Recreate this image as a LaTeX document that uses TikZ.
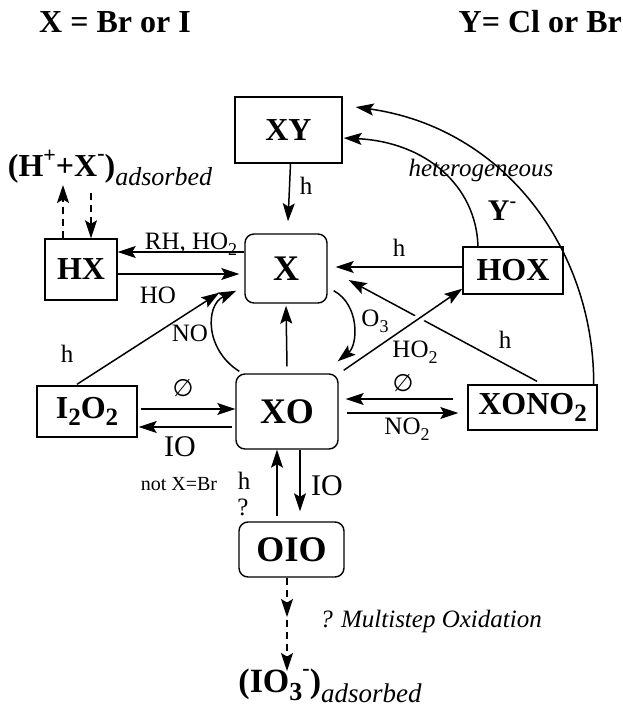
\documentclass[tikz,border=0pt]{standalone}
\usepackage{fontspec}
\setmainfont{Liberation Serif}
\newfontfamily\symfam{DejaVu Sans}
\usetikzlibrary{arrows.meta}
\begin{document}
\begin{tikzpicture}[x=1pt,y=-1pt,
  box/.style={draw, line width=1.4pt, inner sep=0pt, font=\fontsize{32}{32}\selectfont\bfseries},
  rbox/.style={box, rounded corners=9pt},
  bigtxt/.style={font=\fontsize{36}{36}\selectfont\bfseries},
  arr/.style={line width=1.5pt, -{Stealth[length=18pt,width=12pt,inset=3.5pt]}},
  darr/.style={arr, dash pattern=on 7pt off 5pt},
  lab/.style={inner sep=0pt, font=\fontsize{25}{25}\selectfont},
  ilab/.style={inner sep=0pt, font=\fontsize{25}{25}\selectfont\itshape},
  big/.style={inner sep=0pt, font=\fontsize{32}{32}\selectfont\bfseries}
]
\useasboundingbox (0,0) rectangle (623,709);
\newcommand{\lowtwo}{\raisebox{-0.22em}{\fontsize{25}{25}\selectfont 2}}
\newcommand{\lowsub}[1]{\raisebox{-0.25em}{\fontsize{18}{18}\selectfont #1}}

% titles
\node[big, anchor=base west] (t1) at (39,33) {X = Br or I};
\node[big, anchor=base east] (t2) at (622,33) {Y= Cl or Br};

% boxes
\node[box, minimum width=107pt, minimum height=66pt] (XY) at (288.5,130) {XY};
\node[rbox, bigtxt, minimum width=82pt, minimum height=69pt] (X) at (286,268.5) {X};
\node[box, minimum width=72pt, minimum height=61pt] (HX) at (81,269.5) {HX};
\node[box, minimum width=100pt, minimum height=47pt] (HOX) at (513,270.5) {HOX};
\node[box, minimum width=129pt, minimum height=45pt] (XONO) at (532.5,407.5) {XONO\lowtwo};
\node[rbox, bigtxt, minimum width=102pt, minimum height=75pt] (XO) at (287,411.5) {XO};
\node[box, minimum width=100pt, minimum height=51pt] (IO) at (87,411.5) {I\lowtwo O\lowtwo};
\node[rbox, bigtxt, minimum width=105pt, minimum height=55pt] (OIO) at (291.5,549.5) {OIO};

% adsorbed species
\node[big] (HXads) at (110,168) {(H\raisebox{0.42em}{\fontsize{22}{22}\selectfont +}+X\raisebox{0.5em}{\fontsize{22}{22}\selectfont -})\raisebox{-0.28em}{\fontsize{26}{26}\selectfont\mdseries\itshape adsorbed}};
\node[inner sep=0pt, font=\fontsize{34}{34}\selectfont\bfseries] (IOads) at (330,686) {(IO\raisebox{-0.22em}{\fontsize{26}{26}\selectfont 3}\raisebox{0.5em}{\fontsize{22}{22}\selectfont -})\raisebox{-0.28em}{\fontsize{27}{27}\selectfont\mdseries\itshape adsorbed}};

\coordinate (adsUp) at (63,185);
\coordinate (adsDn) at (91,193);
\coordinate (mid) at (287,617);
\coordinate (midB) at (287,620);
\coordinate (endIO) at (287,671);

% XY -> X
\draw[arr] ([xshift=2pt]XY.south) -- ([xshift=2pt,yshift=12pt]X.north);
\node[lab] (lh1) at (306,186) {h};

% X <-> HX
\draw[arr] ([yshift=16.5pt]X.west) -- ([yshift=17.5pt]HX.east);
\draw[arr] ([yshift=-4.5pt]HX.east) -- ([xshift=-5pt,yshift=-5.5pt]X.west);
\node[lab] (lrh) at (191,244) {RH, HO\lowsub{2}};
\node[lab] (lho) at (158,295) {HO};

% HX <-> adsorbed
\draw[darr] ([xshift=-18pt]HX.north) -- (adsUp);
\draw[darr] (adsDn) -- ([xshift=10pt]HX.north);

% HOX -> X
\draw[arr] ([yshift=3.5pt]HOX.west) -- ([xshift=8pt,yshift=1.5pt]X.east);
\node[lab] (lh2) at (399,248) {h};

% HOX -> XY heterogeneous
\draw[arr] ([xshift=-35pt]HOX.north) .. controls (476,185) and (425,142) .. ([xshift=1pt,yshift=-8pt]XY.east);
\node[ilab] (lhet) at (481,170) {heterogeneous};
\node[inner sep=0pt, font=\fontsize{30}{30}\selectfont\bfseries] (lY) at (502,211) {Y\raisebox{0.45em}{\fontsize{20}{20}\selectfont -}};

% XONO2 -> XY
\draw[arr] ([xshift=-4pt]XONO.north east) .. controls (594,250) and (505,128) .. ([xshift=13pt,yshift=23pt]XY.east);

% XONO2 -> X (h), broken by crossing
\draw[arr] ([xshift=4.5pt,yshift=3pt]XONO.north) -- ([xshift=21pt,yshift=-11.5pt]X.east);
\node[lab] (lh3) at (505,340) {h};
% XO -> HOX
\draw[arr, preaction={draw=white, line width=9pt, -{}, shorten >=20pt, shorten <=30pt}] ([xshift=5pt,yshift=3pt]XO.north east) -- ([yshift=6pt]HOX.south west);
\node[lab] (lho2) at (415,352) {HO\lowsub{2}};

% O3 curve
\draw[arr] ([xshift=6pt,yshift=13pt]X.south east) .. controls (360,305) and (358,345) .. ([xshift=-1pt,yshift=12pt]XO.north east);
\node[lab] (lo3) at (375,321) {O\lowsub{3}};

% NO curve
\draw[arr] ([xshift=4pt,yshift=2pt]XO.north west) .. controls (205,350) and (205,305) .. ([xshift=-8pt,yshift=13pt]X.south west);
\node[lab] (lno) at (190,333) {NO};

% XO -> X
\draw[arr] ([yshift=7pt]XO.north) -- ([yshift=-2pt]X.south);

% I2O2 -> X
\draw[arr] ([xshift=-10pt,yshift=1pt]IO.north) -- ([xshift=-25pt,yshift=11pt]X.south west);
\node[lab] (lh4) at (67,354) {h};

% I2O2 <-> XO
\draw[arr] ([xshift=3pt,yshift=2.5pt]IO.east) -- ([yshift=2.5pt]XO.west);
\draw[arr] ([xshift=-3pt,yshift=-15.5pt]XO.west) -- ([xshift=1pt,yshift=-15.5pt]IO.east);
\node[inner sep=0pt, font=\fontsize{24}{24}\selectfont\symfam] (le1) at (183,388) {∅};
\node[inner sep=0pt, font=\fontsize{30}{30}\selectfont] (lio1) at (180,447) {IO};
\node[inner sep=0pt, font=\fontsize{20}{20}\selectfont] (lnot) at (179,484) {not X=Br};

% XO <-> XONO2
\draw[arr] ([xshift=-14pt,yshift=8.5pt]XONO.west) -- ([xshift=7pt,yshift=12.5pt]XO.east);
\draw[arr] ([xshift=8pt,yshift=-1.5pt]XO.east) -- ([xshift=-9pt,yshift=-5.5pt]XONO.west);
\node[inner sep=0pt, font=\fontsize{24}{24}\selectfont\symfam] (le2) at (403,383) {∅};
\node[lab] (lno2) at (407,429) {NO\lowsub{2}};

% XO <-> OIO
\draw[arr] ([xshift=-14.5pt,yshift=5pt]OIO.north) -- ([xshift=-10pt]XO.south);
\draw[arr] ([xshift=13pt]XO.south) -- ([xshift=8.5pt,yshift=10pt]OIO.north);
\node[lab] (lh5) at (244,481) {h};
\node[lab] (lq) at (243,507) {?};
\node[inner sep=0pt, font=\fontsize{30}{30}\selectfont] (lio2) at (327,486) {IO};

% OIO -> IO3-
\draw[darr] ([xshift=-4.5pt]OIO.south) -- (mid);
\draw[darr] (midB) -- (endIO);
\node[ilab] (lms) at (431,621) {? Multistep Oxidation};
\end{tikzpicture}
\end{document}
